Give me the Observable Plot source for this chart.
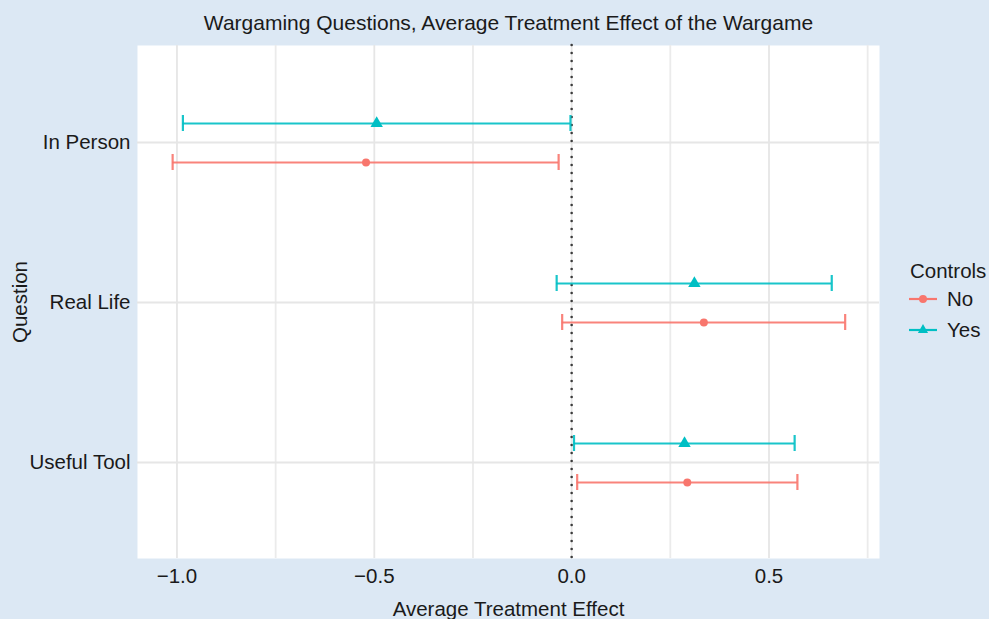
<!DOCTYPE html>
<html><head><meta charset="utf-8">
<script src="https://cdn.jsdelivr.net/npm/d3@7"></script>
<script src="https://cdn.jsdelivr.net/npm/@observablehq/plot@0.6"></script>
<style>
html,body{margin:0;padding:0;background:#dce8f4;}
#wrap{position:relative;width:989px;height:619px;font-family:"Liberation Sans",Arial,sans-serif;}
#legend{position:absolute;left:900px;top:256px;}
</style></head><body><div id="wrap"></div>
<script>
const questions = ["In Person", "Real Life", "Useful Tool"];
const controlLevels = ["No", "Yes"];
const question = ["In Person", "In Person", "Real Life", "Real Life", "Useful Tool", "Useful Tool"];
const control  = ["Yes", "No", "Yes", "No", "Yes", "No"];
const estimate = [-0.494, -0.521, 0.311, 0.335, 0.286, 0.293];
const lower    = [-0.985, -1.011, -0.038, -0.024, 0.006, 0.014];
const upper    = [-0.003, -0.033, 0.659, 0.693, 0.565, 0.572];
const xTicks = [-1, -0.5, 0, 0.5];
const xMinor = [-0.75, -0.25, 0.25, 0.75];
const colors = ["#F8766D", "#00BFC4"];
const symbols = ["circle", "triangle"];

const data = question.map((q, i) => ({question: q, control: control[i], estimate: estimate[i], lower: lower[i], upper: upper[i]}));
const off = {Yes: -19, No: 20};
const font = '"Liberation Sans", Arial, sans-serif';
const fs = 20.5;

const seriesMarks = controlLevels.flatMap((c, k) => {
  const f = d => d.control === c;
  return [
    Plot.ruleY(data, {filter: f, y: "question", x1: "lower", x2: "upper", stroke: "control", strokeWidth: 2.2, strokeOpacity: 0.9, dy: off[c]}),
    Plot.ruleX(data, {filter: f, y1: "question", y2: "question", x: "lower", stroke: "control", strokeWidth: 2.2, strokeOpacity: 0.9, insetTop: -8, insetBottom: -8, dy: off[c]}),
    Plot.ruleX(data, {filter: f, y1: "question", y2: "question", x: "upper", stroke: "control", strokeWidth: 2.2, strokeOpacity: 0.9, insetTop: -8, insetBottom: -8, dy: off[c]}),
    Plot.dot(data, {filter: f, y: "question", x: "estimate", fill: "control", stroke: null, symbol: symbols[k], r: k === 0 ? 4 : 4.6, dy: off[c]})
  ];
});

const chart = Plot.plot({
  width: 989, height: 619,
  marginLeft: 137, marginRight: 110, marginTop: 45, marginBottom: 61,
  style: {background: "transparent", fontFamily: font, fontSize: fs + "px", color: "#1a1a1a"},
  x: {domain: [-1.1, 0.78]},
  y: {type: "point", domain: questions, padding: 0.6},
  color: {domain: controlLevels, range: colors},
  marks: [
    Plot.frame({fill: "white", stroke: null}),
    Plot.gridX(xMinor, {stroke: "#ebebeb", strokeOpacity: 1, strokeWidth: 1.8}),
    Plot.gridX(xTicks, {stroke: "#e6e6e6", strokeOpacity: 1, strokeWidth: 1.8}),
    Plot.gridY(questions, {stroke: "#e6e6e6", strokeOpacity: 1, strokeWidth: 1.8}),
    Plot.ruleX([0], {stroke: "#3c3c3c", strokeWidth: 2.6, strokeDasharray: "0 8", strokeLinecap: "round"}),
    ...seriesMarks,
    Plot.axisX(xTicks, {tickSize: 0, tickPadding: 10, tickFormat: d3.format(".1f"), label: null, fontSize: fs}),
    Plot.axisY(questions, {tickSize: 0, tickPadding: 7, label: null, fontSize: fs}),
    Plot.text(["Average Treatment Effect"], {frameAnchor: "bottom", lineAnchor: "middle", dy: 51, fontSize: fs}),
    Plot.text(["Question"], {frameAnchor: "left", textAnchor: "middle", lineAnchor: "middle", dx: -117, rotate: -90, fontSize: fs}),
    Plot.text(["Wargaming Questions, Average Treatment Effect of the Wargame"], {frameAnchor: "top", lineAnchor: "middle", dy: -22, fontSize: 21})
  ]
});
const wrap = document.getElementById("wrap");
wrap.appendChild(chart);

// Legend
const col = chart.scale("color");
const lg = d3.select(wrap).append("svg").attr("id", "legend").attr("width", 89).attr("height", 90)
  .style("font-family", font).style("font-size", fs + "px").style("overflow", "visible");
lg.append("text").attr("x", 10).attr("y", 22).attr("fill", "#1a1a1a").text("Controls");
controlLevels.forEach((c, k) => {
  const y = 43 + k * 31;
  const g = lg.append("g").attr("transform", `translate(0,${y})`);
  g.append("line").attr("x1", 9).attr("x2", 37).attr("stroke", col.apply(c)).attr("stroke-width", 2.2);
  g.append("path").attr("d", d3.symbol(k === 0 ? d3.symbolCircle : d3.symbolTriangle, k === 0 ? 50 : 45)())
    .attr("transform", "translate(23,0)").attr("fill", col.apply(c));
  g.append("text").attr("x", 47).attr("y", 0).attr("dy", "0.35em").attr("fill", "#1a1a1a").text(c);
});
</script>
</body></html>
